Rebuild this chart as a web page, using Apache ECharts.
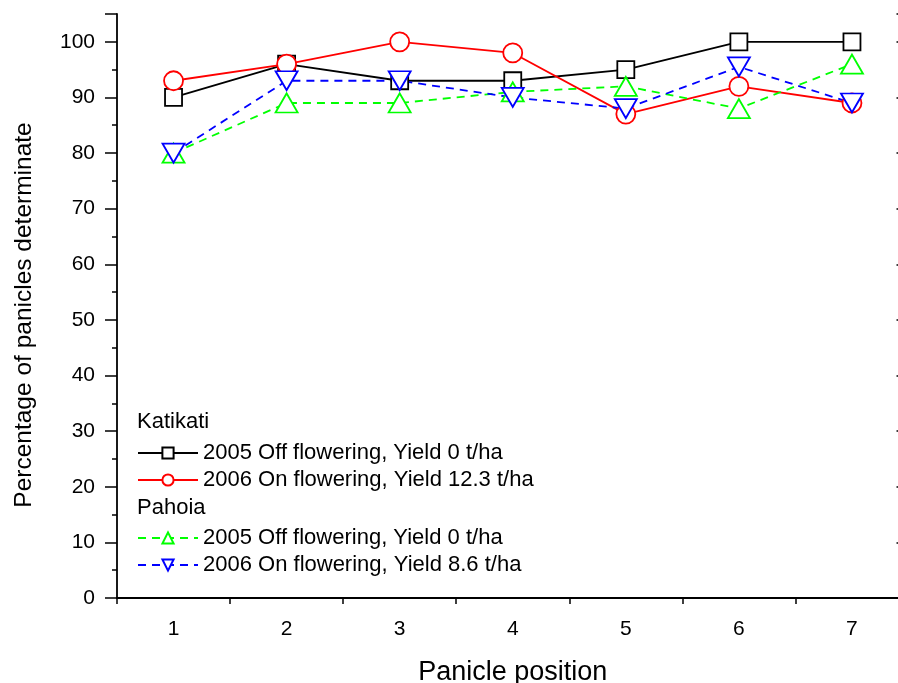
<!DOCTYPE html>
<html>
<head>
<meta charset="utf-8">
<script src="https://cdn.jsdelivr.net/npm/echarts@6/dist/echarts.min.js"></script>
<style>html,body{margin:0;padding:0;background:#fff}#c{width:898px;height:683px}</style>
</head>
<body>
<div id="c"></div>
<script>
var positions = ['1', '2', '3', '4', '5', '6', '7'];
var katikati2005 = [90, 96, 93, 93, 95, 100, 100];
var katikati2006 = [93, 96, 100, 98, 87, 92, 89];
var pahoia2005 = [80, 89, 89, 91, 92, 88, 96];
var pahoia2006 = [80, 93, 93, 90, 88, 95.5, 89];
var yTicks = [0, 10, 20, 30, 40, 50, 60, 70, 80, 90, 100];

var names = [
  '2005 Off flowering, Yield 0 t/ha ',
  '2006 On flowering, Yield 12.3 t/ha',
  '2005 Off flowering, Yield 0 t/ha',
  '2006 On flowering, Yield 8.6 t/ha'
];
var FONT = "'Liberation Sans', Arial, sans-serif";
var chart = echarts.init(document.getElementById('c'), null, {renderer: 'canvas'});

function mkSeries(name, data, color, symbol, size, rotate, dashed) {
  return {
    name: name, type: 'line', data: data,
    xAxisIndex: 0, yAxisIndex: 0,
    symbol: symbol, symbolSize: size, symbolRotate: rotate,
    showAllSymbol: true,
    lineStyle: {color: color, width: 1.8, type: dashed ? [8, 6] : 'solid'},
    itemStyle: {color: '#fff', borderColor: color, borderWidth: 1.8},
    emphasis: {disabled: true},
    animation: false
  };
}

var axisLineStyle = {color: '#000', width: 1.8};
var tickStyle = {color: '#000', width: 1.5};

chart.setOption({
  animation: false,
  grid: {left: 117, width: 791.5, top: 14, height: 584, outerBoundsMode: 'none', containLabel: false},
  xAxis: [
    {type: 'category', data: positions, position: 'bottom', boundaryGap: true,
     axisLine: {lineStyle: axisLineStyle},
     axisTick: {alignWithLabel: true, length: 11, lineStyle: tickStyle},
     axisLabel: {fontSize: 21, fontFamily: FONT, color: '#000', margin: 21},
     splitLine: {show: false},
     name: 'Panicle position', nameLocation: 'middle', nameGap: 61,
     nameTextStyle: {fontSize: 27, fontFamily: FONT, color: '#000'}},
    {type: 'value', min: 0.5, max: 7.5, interval: 1, position: 'bottom',
     axisLine: {show: false}, axisTick: {length: 6, lineStyle: tickStyle},
     axisLabel: {show: false}, splitLine: {show: false}},
    {type: 'category', data: positions, position: 'top', boundaryGap: true,
     axisLine: {lineStyle: axisLineStyle},
     axisTick: {alignWithLabel: true, inside: true, length: 11, lineStyle: tickStyle},
     axisLabel: {show: false}, splitLine: {show: false}},
    {type: 'value', min: 0.5, max: 7.5, interval: 1, position: 'top',
     axisLine: {show: false}, axisTick: {inside: true, length: 6, lineStyle: tickStyle},
     axisLabel: {show: false}, splitLine: {show: false}}
  ],
  yAxis: [
    {type: 'value', min: 0, max: 105, interval: 10, position: 'left',
     axisLine: {show: true, lineStyle: axisLineStyle},
     axisTick: {show: true, length: 12, lineStyle: tickStyle},
     axisLabel: {fontSize: 21, fontFamily: FONT, color: '#000', margin: 22,
       formatter: function (v) { return yTicks.indexOf(v) >= 0 ? String(v) : ''; }},
     splitLine: {show: false},
     name: 'Percentage of panicles determinate', nameLocation: 'middle', nameGap: 80,
     nameTextStyle: {fontSize: 24.5, fontFamily: FONT, color: '#000', padding: [0, 18, 0, 0]}},
    {type: 'value', min: 0, max: 105, interval: 5, position: 'left',
     axisLine: {show: false}, axisTick: {show: true, length: 5, lineStyle: tickStyle},
     axisLabel: {show: false}, splitLine: {show: false}},
    {type: 'value', min: 0, max: 105, interval: 10, position: 'right',
     axisLine: {show: true, lineStyle: axisLineStyle},
     axisTick: {show: true, inside: true, length: 12, lineStyle: tickStyle},
     axisLabel: {show: false}, splitLine: {show: false}},
    {type: 'value', min: 0, max: 105, interval: 5, position: 'right',
     axisLine: {show: false}, axisTick: {show: true, inside: true, length: 5, lineStyle: tickStyle},
     axisLabel: {show: false}, splitLine: {show: false}}
  ],
  legend: [
    {data: [names[0], names[1]], orient: 'vertical', left: 137, top: 442, padding: 0,
     itemWidth: 60, itemHeight: 14, itemGap: 5, selectedMode: false,
     textStyle: {fontSize: 22, fontFamily: FONT, color: '#000'}},
    {data: [names[2], names[3]], orient: 'vertical', left: 137, top: 527, padding: 0,
     itemWidth: 60, itemHeight: 14, itemGap: 5, selectedMode: false,
     textStyle: {fontSize: 22, fontFamily: FONT, color: '#000'}}
  ],
  graphic: [
    {type: 'text', x: 137, y: 422, style: {text: 'Katikati', font: '22px ' + FONT, fill: '#000', verticalAlign: 'middle'}},
    {type: 'text', x: 137, y: 508, style: {text: 'Pahoia', font: '22px ' + FONT, fill: '#000', verticalAlign: 'middle'}}
  ],
  series: [
    mkSeries(names[0], katikati2005, '#000000', 'rect', 17, 0, false),
    mkSeries(names[1], katikati2006, '#ff0000', 'circle', 19, 0, false),
    mkSeries(names[2], pahoia2005, '#00ff00', 'triangle', [22, 19], 0, true),
    mkSeries(names[3], pahoia2006, '#0000ff', 'triangle', [22, 19], 180, true)
  ]
});
</script>
</body>
</html>
